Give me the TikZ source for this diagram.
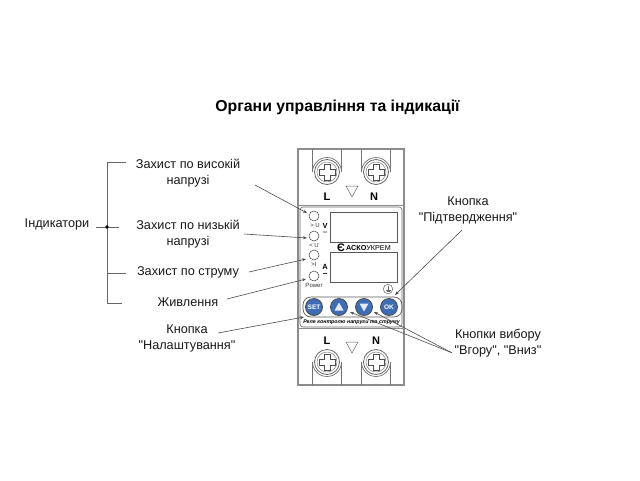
\documentclass[tikz,border=0pt]{standalone}
\usepackage{fontspec}
\setmainfont{Liberation Sans}[Ligatures=TeXOff]
\usetikzlibrary{arrows.meta}
\definecolor{btn}{HTML}{3F6DB5}
\definecolor{edge}{HTML}{8C8C8C}
\tikzset{
  lbl/.style={font=\fontsize{12.7}{16}\selectfont,align=center,inner sep=0pt,text=black!90},
  ttl/.style={font=\fontsize{15.8}{18}\bfseries\selectfont,inner sep=0pt},
  leader/.style={draw=black!70,line width=0.6pt,-{Stealth[length=4pt,width=3pt]}},
  brace/.style={draw=black!60,line width=0.8pt},
  body/.style={draw=edge,line width=1.2pt},
  term/.style={draw=black!55,line width=0.7pt},
  led/.style={circle,draw=black!75,line width=0.5pt,minimum size=10pt,inner sep=0pt,fill=white},
  tiny/.style={font=\fontsize{6}{7}\selectfont,inner sep=0pt,text=black!80},
  term letter/.style={font=\fontsize{11}{12}\bfseries\selectfont,inner sep=0pt},
  btnc/.style={circle,draw=black!70,fill=btn,line width=0.8pt,minimum size=17pt,inner sep=0pt,text=white,font=\fontsize{6.5}{7}\bfseries\selectfont},
  tri/.style={draw=black!60,line width=0.5pt,fill=white},
}
\newcommand{\myscrew}[4]{% x, ycentre, yend, arc end
  \draw[term] (#1-14.5,#3) -- (#1-14.5,#2) arc[start angle=180,end angle=#4,radius=14.5];
  \draw[term] (#1+14.5,#3) -- (#1+14.5,#2);
  \draw[draw=black!60,line width=0.8pt,fill=white] (#1,#2) circle[radius=12.5];
  \draw[draw=black!50,line width=0.5pt] (#1,#2) circle[radius=10];
  \draw[draw=black!70,line width=0.6pt,fill=white]
    (#1-3,#2-8) -- (#1+3,#2-8) -- (#1+3,#2-3) -- (#1+8,#2-3) -- (#1+8,#2+3) -- (#1+3,#2+3)
    -- (#1+3,#2+8) -- (#1-3,#2+8) -- (#1-3,#2+3) -- (#1-8,#2+3) -- (#1-8,#2-3) -- (#1-3,#2-3) -- cycle;
}
\begin{document}
\begin{tikzpicture}[x=1pt,y=-1pt]
\useasboundingbox[fill=white] (0,0) rectangle (640,480);

\node[ttl] (title) at (337.5,107) {Органи управління та індикації};

% device body
\draw[body] (298,149) rectangle (404,385);
\draw[body,line width=0.8pt] (298,205) -- (404,205);
\draw[body,line width=0.8pt] (298,328) -- (404,328);
\draw[draw=black!60,line width=0.6pt,rounded corners=3pt] (300,207) rectangle (402,327);

% terminals
\myscrew{327}{172}{149}{360}
\myscrew{376}{172}{149}{360}
\myscrew{327}{362}{385}{0}
\myscrew{376}{362}{385}{0}
\draw[tri] (346,186) -- (358,186) -- (352,197) -- cycle;
\draw[tri] (346,342) -- (358,342) -- (352,353) -- cycle;
\node[term letter] (l1) at (327,197) {L};
\node[term letter] (n1) at (374,197) {N};
\node[term letter] (l2) at (327,341) {L};
\node[term letter] (n2) at (376,341) {N};

% displays
\draw[draw=black!65,line width=0.6pt] (330,212) rectangle (397,242);
\draw[draw=black!65,line width=0.6pt] (330,252) rectangle (397,282);
\node[inner sep=0pt,font=\fontsize{11}{11}\bfseries\selectfont] (logoe) at (341,248) {Є};
\node[inner sep=0pt,anchor=west,font=\fontsize{7.2}{8}\selectfont] (logo) at (346,248) {\textbf{АСКО}УКРЕМ};

% LEDs
\node[led] (led1) at (314,216) {};
\node[led] (led2) at (314,236) {};
\node[led] (led3) at (314,255) {};
\node[led] (led4) at (314,276) {};
\node[tiny] (t1) at (315,225.5) {> U};
\node[tiny] (t2) at (314,245) {< U};
\node[tiny] (t3) at (314,264) {>I};
\node[tiny] (t4) at (314,285) {Power};
\node[inner sep=0pt,font=\fontsize{7.5}{8}\bfseries\selectfont] (v) at (325,225.5) {V};
\node[inner sep=0pt,font=\fontsize{7.5}{8}\bfseries\selectfont] (a) at (325,267) {A};
\draw[black!80,line width=0.6pt] (323,232) .. controls (324,231) and (326,233) .. (327,232);
\draw[black!80,line width=0.6pt] (323,273.5) .. controls (324,272.5) and (326,274.5) .. (327,273.5);

% ground symbol
\node[circle,draw=black!60,line width=0.5pt,minimum size=9.5pt,inner sep=0pt] (gnd) at (388,289) {};
\draw[draw=black!60,line width=0.5pt] (388,285.5) -- (388,290) (385.5,290) -- (390.5,290) (386.5,291.5) -- (389.5,291.5);

% button panel
\draw[draw=black!65,line width=0.7pt,rounded corners=8pt] (303,297) rectangle (402,317);
\node[btnc] (set) at (314,307) {SET};
\node[btnc] (up) at (339,307) {};
\node[btnc] (down) at (364,307) {};
\node[btnc] (ok) at (389,307) {OK};
\fill[white!85!btn] (339,302.5) -- (343.5,310.5) -- (334.5,310.5) -- cycle;
\fill[white!85!btn] (364,311.5) -- (368.5,303.5) -- (359.5,303.5) -- cycle;
\node[inner sep=0pt,font=\fontsize{5.3}{6}\bfseries\itshape\selectfont] (cap) at (351.5,322) {Реле контролю напруги та струму};

% labels
\node[lbl] (ind) at (57,224) {Індикатори};
\node[lbl] (high) at (188,173.5) {Захист по високій\\напрузі};
\node[lbl] (low) at (188,234) {Захист по низькій\\напрузі};
\node[lbl] (cur) at (188,272) {Захист по струму};
\node[lbl] (pow) at (188,302) {Живлення};
\node[lbl] (setl) at (187,338) {Кнопка\\"Налаштування"};
\node[lbl] (okl) at (468,210) {Кнопка\\"Підтвердження"};
\node[lbl] (sel) at (498,343) {Кнопки вибору\\"Вгору", "Вниз"};

% bracket
\coordinate (bt) at (107,162);
\coordinate (bb) at (107,303);
\coordinate (bm) at (107,227);
\coordinate (btr) at (126,162);
\coordinate (bbr) at (122,303);
\coordinate (bml) at (96,227);
\coordinate (bmr) at (119,227);
\coordinate (bc) at (107,273);
\coordinate (bcr) at (126,273);
\draw[brace] (btr) -- (bt) -- (bb) -- (bbr);
\draw[brace] (bml) -- (bmr);
\draw[brace] (bc) -- (bcr);
\fill[black] (bm) circle[radius=1.8];

% leaders
\coordinate (s1) at (255,185); \coordinate (e1) at (307,213);
\coordinate (s2) at (244,234); \coordinate (e2) at (307,238);
\coordinate (s3) at (249,272); \coordinate (e3) at (306,259);
\coordinate (s4) at (227,299); \coordinate (e4) at (306,279);
\coordinate (s5) at (218,333); \coordinate (e5) at (304,317);
\coordinate (s6) at (462,230); \coordinate (e6) at (395,295);
\coordinate (s7) at (451.7,352.7); \coordinate (e7) at (350,312); \coordinate (e8) at (374,312);
\draw[leader] (s1) -- (e1);
\draw[leader] (s2) -- (e2);
\draw[leader] (s3) -- (e3);
\draw[leader] (s4) -- (e4);
\draw[leader] (s5) -- (e5);
\draw[leader] (s6) -- (e6);
\draw[leader] (s7) -- (e7);
\draw[leader] (s7) -- (e8);
\end{tikzpicture}
\end{document}
